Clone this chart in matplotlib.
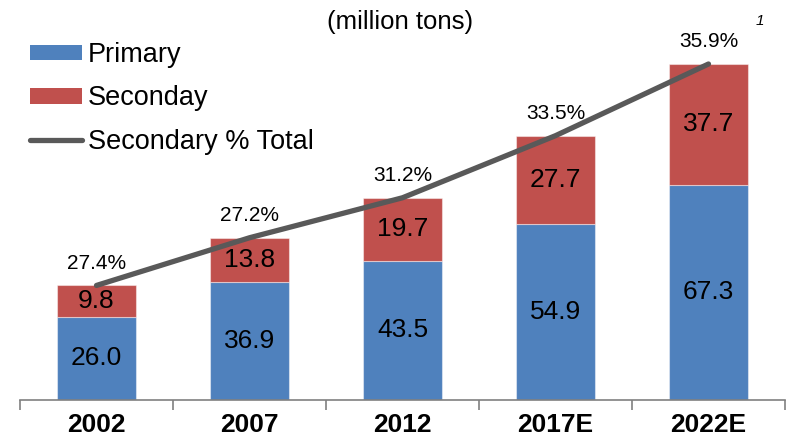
import matplotlib
matplotlib.use("Agg")
import matplotlib.pyplot as plt
from matplotlib.patches import Patch
from matplotlib.lines import Line2D
import numpy as np

plt.rcParams['font.family'] = ['Liberation Sans', 'DejaVu Sans']

categories = ["2002", "2007", "2012", "2017E", "2022E"]
primary = [26.0, 36.9, 43.5, 54.9, 67.3]
secondary = [9.8, 13.8, 19.7, 27.7, 37.7]
secondary_pct = [27.4, 27.2, 31.2, 33.5, 35.9]

blue = "#4F81BD"
red = "#C0504D"
gray = "#595959"

fig = plt.figure(figsize=(7.88, 4.36), dpi=100)
ax = fig.add_axes([20/788, 36/436, 765/788, 384/436])

x = np.arange(len(categories))
totals = [p + s for p, s in zip(primary, secondary)]
w = 0.51
ax.bar(x, primary, width=w, color=blue, edgecolor=(1, 1, 1, 0.45), linewidth=0.8, zorder=2)
ax.bar(x, secondary, width=w, bottom=primary, color=red, edgecolor=(1, 1, 1, 0.45), linewidth=0.8, zorder=2)
ax.plot(x, totals, color=gray, linewidth=3.8, solid_capstyle='round', zorder=3)

for i in range(len(x)):
    ax.text(x[i], primary[i] / 2, f"{primary[i]:.1f}", ha='center', va='center', fontsize=19, color='black', zorder=4)
    ax.text(x[i], primary[i] + secondary[i] / 2, f"{secondary[i]:.1f}", ha='center', va='center', fontsize=19, color='black', zorder=4)
    ax.annotate(f"{secondary_pct[i]:.1f}%", xy=(x[i], totals[i]), xytext=(0, 16), textcoords='offset points',
                ha='center', va='center', fontsize=15, color='black', zorder=4)

ax.set_xlim(-0.5, len(x) - 0.5)
ax.set_ylim(0, 120)
ax.set_yticks([])
for s in ['left', 'right', 'top']:
    ax.spines[s].set_visible(False)
ax.spines['bottom'].set_color('#808080')
ax.spines['bottom'].set_linewidth(1.2)
ax.set_xticks(x)
ax.set_xticklabels(categories, fontsize=19, fontweight='bold')
ax.tick_params(axis='x', which='major', length=0, pad=9)
ax.set_xticks(np.arange(-0.5, len(x), 1.0), minor=True)
ax.tick_params(axis='x', which='minor', length=7, color='#808080', width=1.2, direction='out')

fig.text(400/788, 1 - 22/436, "(million tons)", ha='center', va='center', fontsize=18.5)
fig.text(760/788, 1 - 21/436, "1", ha='center', va='center', fontsize=11, style='italic')

handles = [Patch(facecolor=blue, edgecolor='none'),
           Patch(facecolor=red, edgecolor='none'),
           Line2D([0], [0], color=gray, linewidth=3.8, solid_capstyle='round')]
labels = ["Primary", "Seconday", "Secondary % Total"]
fig.legend(handles, labels, loc='upper left', bbox_to_anchor=(30/788, 1 - 42/436), frameon=False,
           fontsize=19.5, handlelength=1.93, handleheight=0.52, handletextpad=0.22, labelspacing=0.64,
           borderaxespad=0, borderpad=0)

fig.savefig("out.png", dpi=100)
